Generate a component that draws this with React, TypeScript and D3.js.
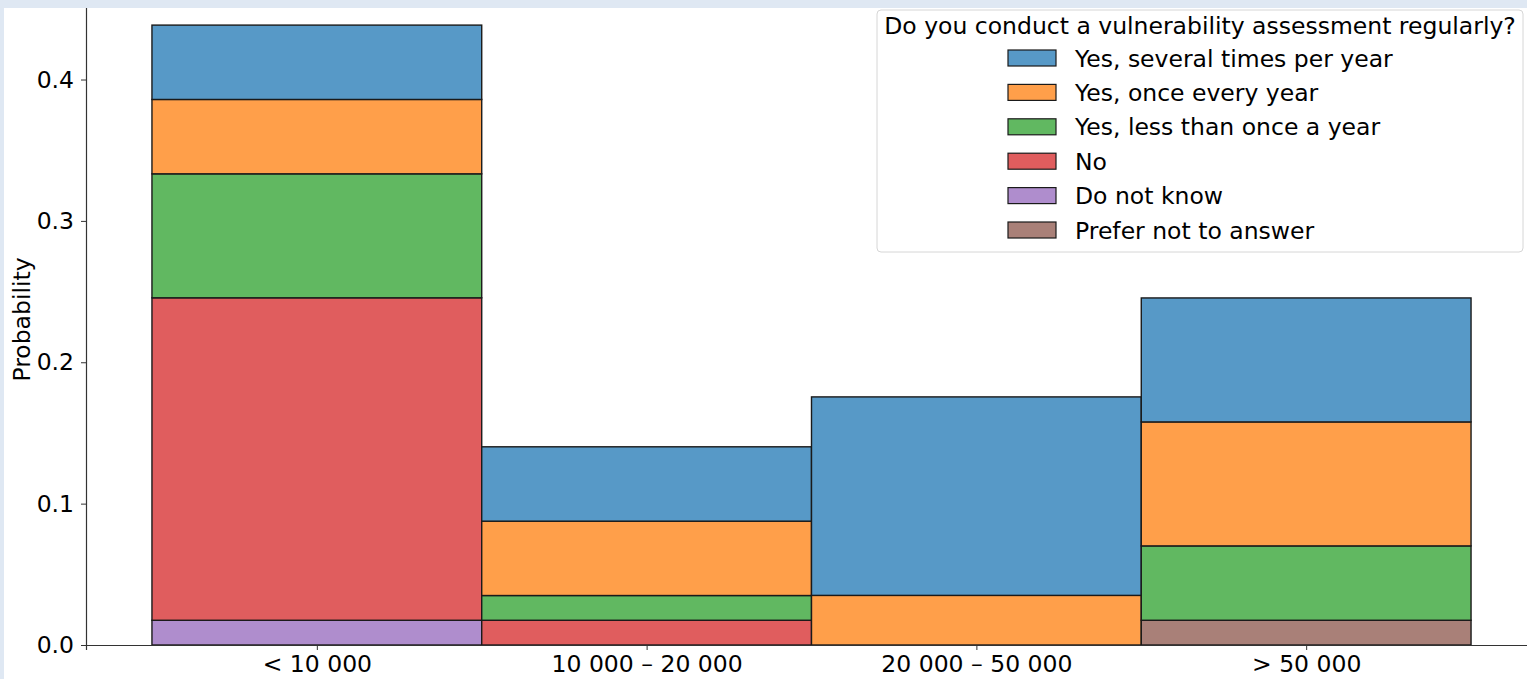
import React, { useEffect, useRef } from 'react';
import * as d3 from 'd3';

// Income bins (x categories)
const categories = ['< 10 000', '10 000 – 20 000', '20 000 – 50 000', '> 50 000'];

// Answers, in legend order (first one is drawn on top of the stack)
const answers = [
  'Yes, several times per year',
  'Yes, once every year',
  'Yes, less than once a year',
  'No',
  'Do not know',
  'Prefer not to answer',
];

// Probability per bin, one array per answer
const severalTimes = [0.0526, 0.0526, 0.1404, 0.0877];
const onceEveryYear = [0.0526, 0.0526, 0.0351, 0.0877];
const lessThanOnce = [0.0877, 0.0175, 0, 0.0526];
const no = [0.2281, 0.0175, 0, 0];
const doNotKnow = [0.0175, 0, 0, 0];
const preferNot = [0, 0, 0, 0.0175];

const yTicks = [0, 0.1, 0.2, 0.3, 0.4];

const colors = ['#5799c7', '#ff9f4a', '#61b861', '#e05d5e', '#af8dcd', '#a98078'];

const App = () => {
  const ref = useRef(null);

  useEffect(() => {
    if (!ref.current) return;
    const svg = d3.select(ref.current);
    svg.selectAll('*').remove();

    const W = 1527, H = 679;
    const left = 86, bottom = 645;
    const font = 'DejaVu Sans, sans-serif';
    const fs = 23.5;

    const series = [severalTimes, onceEveryYear, lessThanOnce, no, doNotKnow, preferNot];

    // x is continuous over bin index, with matplotlib's 5% margins
    const x = d3.scaleLinear().domain([-0.2, 4.2]).range([left, 1537]);
    const y = d3.scaleLinear().domain([0, 0.4605]).range([bottom, -6]);

    svg.append('rect').attr('width', W).attr('height', H).attr('fill', '#ffffff');

    // stack from the last answer (bottom) to the first (top)
    const g = svg.append('g');
    categories.forEach((c, i) => {
      let base = 0;
      for (let k = series.length - 1; k >= 0; k--) {
        const v = series[k][i];
        if (v > 0) {
          g.append('rect')
            .attr('x', x(i))
            .attr('y', y(base + v))
            .attr('width', x(i + 1) - x(i))
            .attr('height', y(base) - y(base + v))
            .attr('fill', colors[k])
            .attr('stroke', '#1a1a1a')
            .attr('stroke-width', 1.4);
        }
        base += v;
      }
    });

    // axes
    const yAxis = svg.append('g')
      .attr('transform', `translate(${left},0)`)
      .call(d3.axisLeft(y).tickValues(yTicks).tickFormat(d3.format('.1f')).tickSize(5).tickPadding(7));
    const xAxis = svg.append('g')
      .attr('transform', `translate(0,${bottom})`)
      .call(d3.axisBottom(x).tickValues([0.5, 1.5, 2.5, 3.5]).tickFormat((d, i) => categories[i]).tickSize(5).tickPadding(5));

    [yAxis, xAxis].forEach(a => {
      a.selectAll('text').attr('font-family', font).attr('font-size', fs).attr('fill', '#000');
      a.selectAll('line').attr('stroke', '#333').attr('stroke-width', 1);
      a.select('.domain').attr('stroke', '#333').attr('stroke-width', 1.2);
    });

    // y label
    svg.append('text')
      .attr('transform', `translate(30,${(bottom - 6) / 2}) rotate(-90)`)
      .attr('text-anchor', 'middle')
      .attr('font-family', font)
      .attr('font-size', fs)
      .text('Probability');

    // legend
    const lg = svg.append('g');
    lg.append('rect')
      .attr('x', 877).attr('y', 10).attr('width', 646).attr('height', 242)
      .attr('rx', 4)
      .attr('fill', '#fff').attr('fill-opacity', 0.8)
      .attr('stroke', '#d6d6d6');
    lg.append('text')
      .attr('x', 1200).attr('y', 34)
      .attr('text-anchor', 'middle')
      .attr('font-family', font).attr('font-size', fs)
      .text('Do you conduct a vulnerability assessment regularly?');
    answers.forEach((a, k) => {
      const cy = 58 + k * 34.4;
      lg.append('rect')
        .attr('x', 1008).attr('y', cy - 8).attr('width', 48).attr('height', 16)
        .attr('fill', colors[k]).attr('stroke', '#1a1a1a').attr('stroke-width', 1.2);
      lg.append('text')
        .attr('x', 1075).attr('y', cy + 8.5)
        .attr('font-family', font).attr('font-size', fs)
        .text(a);
    });

    // light blue frame of the screenshot
    svg.append('rect').attr('x', 0).attr('y', 0).attr('width', W).attr('height', 8).attr('fill', '#dfe8f3');
    svg.append('rect').attr('x', 0).attr('y', 0).attr('width', 4).attr('height', H).attr('fill', '#dfe8f3');
  }, []);

  return (
    <svg ref={ref} width={1527} height={679} style={{ position: 'absolute', left: 0, top: 0 }} />
  );
};

export default App;
